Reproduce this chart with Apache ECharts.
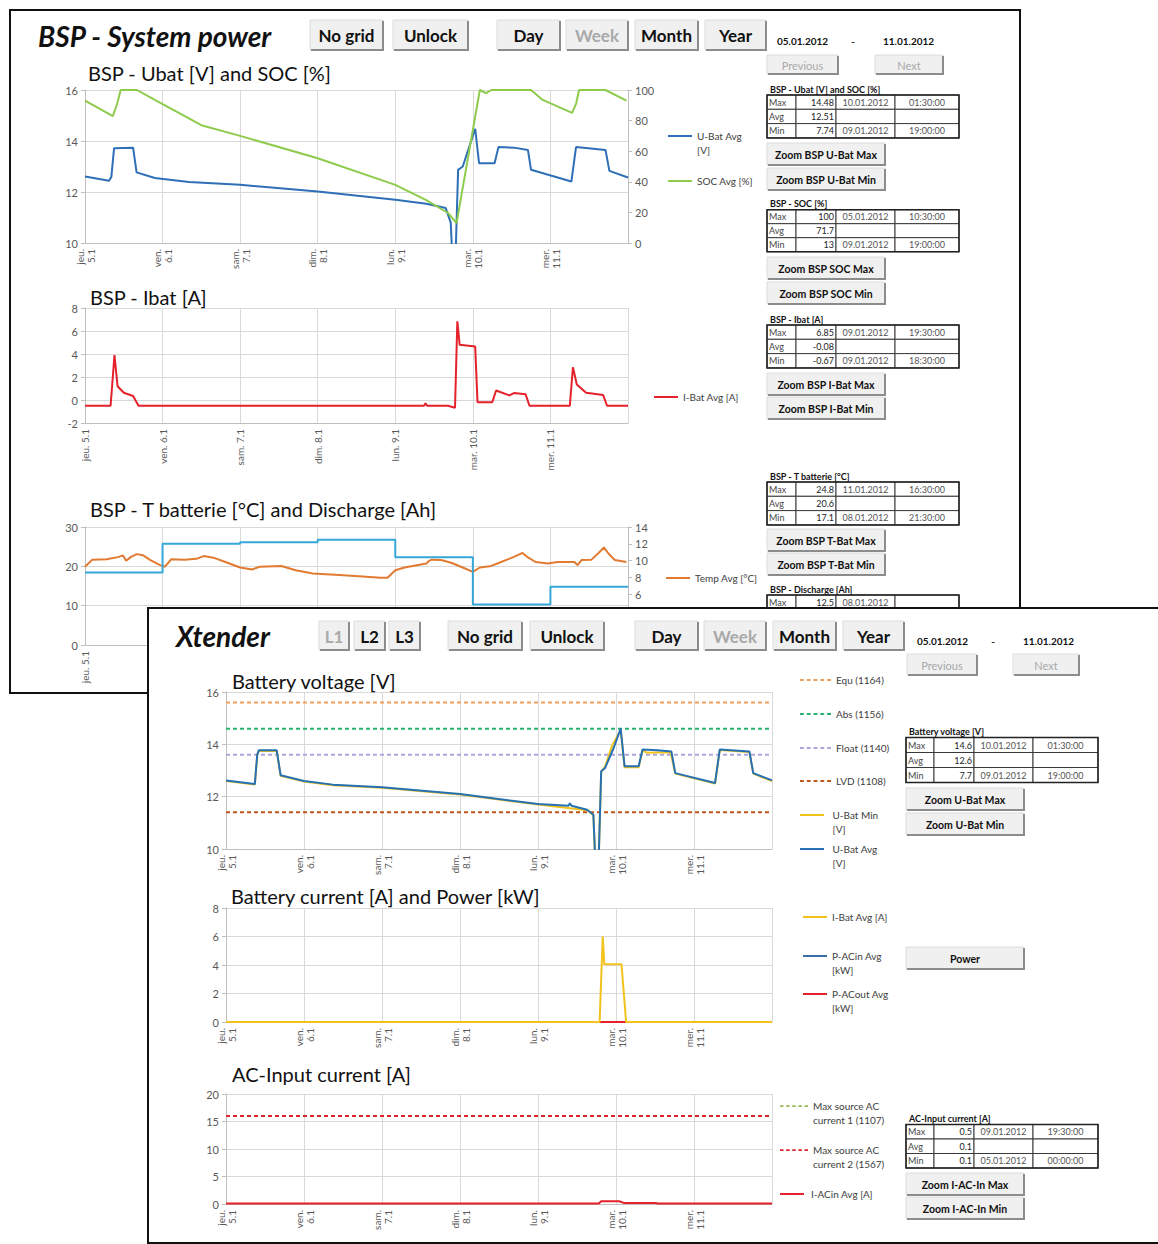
<!DOCTYPE html>
<html><head><meta charset="utf-8">
<script src="https://cdn.jsdelivr.net/npm/echarts@6/dist/echarts.min.js"></script>
<style>
html,body{margin:0;padding:0;width:1158px;height:1244px;overflow:hidden;background:#fff;}
#frame1{position:absolute;left:9px;top:9px;width:1012px;height:685px;border:2px solid #111;box-sizing:border-box;background:#fff;z-index:1;}
#c1{position:absolute;left:0;top:0;width:1158px;height:1244px;z-index:2;}
#frame2{position:absolute;left:147px;top:607px;width:1100px;height:637px;border:2px solid #111;border-right:none;box-sizing:border-box;background:#fff;z-index:3;}
#c2{position:absolute;left:0;top:0;width:1158px;height:1244px;z-index:4;}
</style></head><body>
<div id="frame1"></div><div id="c1"></div><div id="frame2"></div><div id="c2"></div>
<script>
// ---------------- DATA ----------------
const dayNames = ['jeu.','ven.','sam.','dim.','lun.','mar.','mer.'];
const dayDates = ['5.1','6.1','7.1','8.1','9.1','10.1','11.1'];

// BSP - Ubat [V]  ([day, value])
const bspUbatAvg = [[0,12.61],[0.31,12.44],[0.34,12.6],[0.375,13.72],[0.62,13.74],[0.665,12.77],[0.9,12.55],[1.34,12.39],[2,12.28],[3,12.02],[4,11.7],[4.4,11.54],[4.65,11.37],[4.715,10.8],[4.76,7.74],[4.81,12.87],[4.87,13.0],[5.03,14.48],[5.08,13.13],[5.28,13.13],[5.33,13.76],[5.53,13.74],[5.71,13.65],[5.75,12.87],[6.27,12.41],[6.33,13.76],[6.71,13.65],[6.76,12.83],[7,12.57]];
// BSP - SOC [%]
const bspSocAvg = [[0,93],[0.36,83],[0.42,92],[0.46,100],[0.67,100],[0.9,93.5],[1.5,77],[2,70],[3,55.4],[4,38],[4.4,28],[4.68,19.6],[4.79,13],[5.09,100],[5.17,98],[5.24,100],[5.75,100],[5.9,93.5],[6.28,85],[6.33,91],[6.37,100],[6.71,100],[6.98,93]];
// BSP - Ibat [A]
const bspIbatAvg = [[0,-0.5],[0.33,-0.5],[0.38,3.9],[0.42,1.2],[0.5,0.63],[0.62,0.35],[0.69,-0.5],[4.37,-0.5],[4.39,-0.28],[4.41,-0.5],[4.68,-0.5],[4.77,-0.67],[4.8,6.85],[4.83,4.8],[5.03,4.65],[5.06,-0.2],[5.25,-0.2],[5.3,0.83],[5.47,0.4],[5.53,0.6],[5.68,0.5],[5.73,-0.5],[6.25,-0.5],[6.29,2.85],[6.34,1.35],[6.46,0.63],[6.68,0.43],[6.73,-0.5],[7,-0.5]];
// BSP - T batterie [°C]
const bspTempAvg = [[0,19.9],[0.094,21.7],[0.281,21.8],[0.437,22.4],[0.487,22.8],[0.531,21.4],[0.593,22.4],[0.668,23.1],[0.75,22.8],[0.843,21.6],[0.968,20.3],[1.031,19.9],[1.112,21.8],[1.28,21.7],[1.437,21.9],[1.53,22.6],[1.655,22.2],[1.81,21.1],[2,19.7],[2.155,19.2],[2.25,19.9],[2.53,20.1],[2.717,19.0],[2.936,18.2],[3.28,17.8],[3.53,17.5],[3.81,17.1],[3.9,17.1],[4,19.0],[4.12,19.7],[4.28,20.3],[4.4,20.7],[4.43,21.3],[4.47,21.7],[4.59,21.6],[4.72,20.9],[4.87,19.7],[5,18.6],[5.09,19.7],[5.22,20.0],[5.34,20.9],[5.53,22.4],[5.64,23.4],[5.715,22.2],[5.81,21.1],[5.965,20.7],[6.09,21.1],[6.31,21.1],[6.35,20.3],[6.4,21.6],[6.53,21.7],[6.62,23.4],[6.69,24.8],[6.75,23.2],[6.83,21.6],[6.98,21.1]];
// BSP - Discharge [Ah] (daily)
const bspDischarge = [[0,8.6],[1,12.0],[2,12.2],[3,12.5],[4,10.4],[5,4.8],[6,6.9],[7,6.9]];

// Xtender - Battery voltage [V]
const xtUbatMin = [[0,12.6],[0.37,12.46],[0.4,13.58],[0.42,13.75],[0.65,13.75],[0.7,12.8],[1,12.58],[1.37,12.44],[2,12.34],[3,12.08],[4,11.7],[4.63,11.48],[4.71,11.29],[4.76,7.7],[4.81,12.95],[4.86,13.15],[4.95,13.95],[5.06,14.55],[5.11,13.12],[5.29,13.12],[5.34,13.76],[5.4,13.68],[5.7,13.7],[5.76,12.88],[6.27,12.5],[6.33,13.78],[6.71,13.71],[6.76,12.88],[7,12.6]];
const xtUbatAvg = [[0,12.62],[0.37,12.48],[0.4,13.6],[0.42,13.77],[0.65,13.77],[0.7,12.82],[1,12.6],[1.37,12.46],[2,12.36],[3,12.1],[4,11.72],[4.39,11.65],[4.41,11.75],[4.43,11.65],[4.63,11.5],[4.71,11.31],[4.76,7.7],[4.81,12.97],[4.86,13.1],[4.97,13.86],[5.06,14.6],[5.11,13.16],[5.29,13.16],[5.34,13.8],[5.53,13.77],[5.71,13.73],[5.76,12.9],[6.27,12.52],[6.33,13.8],[6.71,13.73],[6.76,12.9],[7,12.62]];
const xtEqu = 15.6, xtAbs = 14.6, xtFloat = 13.6, xtLvd = 11.4;
// Xtender - Battery current [A] and Power [kW]
const xtIbatAvg = [[0,0],[4.79,0],[4.83,6.0],[4.85,4.05],[5.07,4.05],[5.13,0],[7,0]];
const xtPAcInAvg = [[0,0],[7,0]];
const xtPAcOutAvg = [[0,0],[7,0]];
// Xtender - AC-Input current [A]
const xtIAcInAvg = [[0,0.1],[4.78,0.1],[4.81,0.5],[5.04,0.5],[5.1,0.2],[5.5,0.2],[5.54,0.1],[7,0.1]];
const xtMaxAc1 = 16, xtMaxAc2 = 16;

// statistic tables
const tblBspUbat = [['Max','14.48','10.01.2012','01:30:00'],['Avg','12.51','',''],['Min','7.74','09.01.2012','19:00:00']];
const tblBspSoc = [['Max','100','05.01.2012','10:30:00'],['Avg','71.7','',''],['Min','13','09.01.2012','19:00:00']];
const tblBspIbat = [['Max','6.85','09.01.2012','19:30:00'],['Avg','-0.08','',''],['Min','-0.67','09.01.2012','18:30:00']];
const tblBspTemp = [['Max','24.8','11.01.2012','16:30:00'],['Avg','20.6','',''],['Min','17.1','08.01.2012','21:30:00']];
const tblBspDis = [['Max','12.5','08.01.2012','']];
const tblXtUbat = [['Max','14.6','10.01.2012','01:30:00'],['Avg','12.6','',''],['Min','7.7','09.01.2012','19:00:00']];
const tblXtIAc = [['Max','0.5','09.01.2012','19:30:00'],['Avg','0.1','',''],['Min','0.1','05.01.2012','00:00:00']];
const dateFrom = '05.01.2012', dateTo = '11.01.2012';

// ---------------- HELPERS ----------------
const FONT = 'Lato, "Open Sans", sans-serif';
const AX = '#bfbfbf', GRIDC = '#d9d9d9', LAB = '#595959';
const ICON_SOLID = 'path://M0,0H24V2H0Z';
const ICON_DASH = 'path://M0,0H4V2H0Z M7,0H11V2H7Z M14,0H18V2H14Z M21,0H25V2H21Z M28,0H32V2H28Z';

function xAxis(grid, twoLine) {
  return {type:'value', gridIndex:grid, min:0, max:7, interval:1,
    axisLine:{show:true, onZero:false, lineStyle:{color:AX}}, axisTick:{show:false},
    splitLine:{show:true, lineStyle:{color:GRIDC, width:1}},
    axisLabel:{rotate:90, fontSize:10, color:LAB, fontFamily:FONT, margin:6, lineHeight:11,
      formatter: v => { const i = Math.round(v); return i < 7 ? (twoLine ? dayNames[i] + '\n' + dayDates[i] : dayNames[i] + ' ' + dayDates[i]) : ''; }}};
}
function yAxis(grid, min, max, interval, pos, split) {
  return {type:'value', gridIndex:grid, min, max, interval, position:pos || 'left',
    axisLine:{show:true, onZero:false, lineStyle:{color:AX}},
    axisTick:{show:true, length:4, lineStyle:{color:AX}},
    splitLine:{show: split !== false, lineStyle:{color:GRIDC}},
    axisLabel:{fontSize:11, color:LAB, fontFamily:FONT, margin:7}};
}
function line(name, data, color, xi, yi, opts) {
  return Object.assign({type:'line', name, data, xAxisIndex:xi, yAxisIndex:yi, symbol:'none', showSymbol:false,
    lineStyle:{color, width:2}, itemStyle:{color}, animation:false, silent:true}, opts || {});
}
function hline(name, v, color, xi, yi) {
  return line(name, [[0, v], [7, v]], color, xi, yi, {lineStyle:{color, width:2, type:[4, 3]}});
}
function leg(name, label, x, y, lines, iw, dashed) {
  const txt = lines > 1 ? ' \n' + label : label;
  return {data:[{name, icon: dashed ? ICON_DASH : ICON_SOLID}], left:x, top: lines > 1 ? y - 21 : y - 7, orient:'vertical', padding:0,
    itemWidth: iw || 24, itemHeight:2, itemGap:0, selectedMode:false,
    textStyle:{fontSize:10, color:'#404040', fontFamily:FONT, lineHeight:14}, formatter: () => txt};
}
function title(t, x, y, size, big) {
  return {text:t, left:x, top:y - size / 2, padding:0,
    textStyle:{fontSize:size, fontWeight: big ? 'bold' : 'normal', fontStyle: big ? 'italic' : 'normal', fontFamily:FONT, color:'#111'}};
}
function text(t, x, y, o) {
  o = o || {};
  const al = o.align || 'left';
  return {type:'text', silent:true, style:{text:t, x, y, fill:o.fill || '#222', fontSize:o.fontSize || 9,
    fontWeight:o.fontWeight || 'normal', fontFamily:FONT, align:al, textAlign:al, verticalAlign:'middle', textVerticalAlign:'middle'}};
}
function btn(x, y, w, h, label, fs, dis, bold) {
  return [
    {type:'rect', silent:true, shape:{x, y, width:w, height:h}, style:{fill:'#f0f0f0', stroke:'#dcdcdc', lineWidth:1}},
    {type:'polyline', silent:true, shape:{points:[[x + w, y + 1], [x + w, y + h], [x + 1, y + h]]}, style:{stroke:'#8c8c8c', lineWidth:2, fill:null}},
    text(label, x + w / 2, y + h / 2 + 0.5, {align:'center', fontSize:fs, fontWeight: bold === false ? 'normal' : 'bold', fill: dis ? '#a9a9a9' : '#111'})
  ];
}
function table(cols, top, rowH, ttl, rows) {
  const els = [text(ttl, cols[0] + 3, top - 6, {fontSize:9, fontWeight:'bold', fill:'#111'})];
  rows.forEach((r, i) => {
    const y = top + i * rowH;
    for (let c = 0; c < 4; c++) {
      els.push({type:'rect', silent:true, shape:{x:cols[c], y, width:cols[c + 1] - cols[c], height:rowH}, style:{fill:'#fff', stroke:'#3a3a3a', lineWidth:1}});
    }
    els.push(text(r[0], cols[0] + 2, y + rowH / 2, {fill:'#444'}));
    els.push(text(r[1], cols[2] - 2, y + rowH / 2, {align:'right'}));
    els.push(text(r[2], (cols[2] + cols[3]) / 2, y + rowH / 2, {align:'center', fill:'#555'}));
    els.push(text(r[3], (cols[3] + cols[4]) / 2, y + rowH / 2, {align:'center', fill:'#555'}));
  });
  els.push({type:'rect', silent:true, shape:{x:cols[0], y:top, width:cols[4] - cols[0], height:rowH * rows.length}, style:{fill:null, stroke:'#222', lineWidth:1.5}});
  return els;
}

// ---------------- WINDOW 1 : BSP ----------------
const c1cols = [767, 796, 836, 895, 959];
const g1 = [].concat(
  btn(310, 20, 73, 30, 'No grid', 17), btn(393, 20, 75, 30, 'Unlock', 17),
  btn(497, 20, 63, 30, 'Day', 17), btn(566, 20, 62, 30, 'Week', 17, true),
  btn(635, 20, 63, 30, 'Month', 17), btn(705, 20, 61, 30, 'Year', 17),
  [text(dateFrom, 777, 41, {fontSize:10, fontWeight:'bold', fill:'#111'}), text('-', 853, 41, {fontSize:10, fontWeight:'bold', align:'center'}), text(dateTo, 883, 41, {fontSize:10, fontWeight:'bold', fill:'#111'})],
  btn(767, 55, 71, 19, 'Previous', 11, true, false), btn(875, 55, 68, 19, 'Next', 11, true, false),
  table(c1cols, 95, 14.3, 'BSP - Ubat [V] and SOC [%]', tblBspUbat),
  btn(767, 143, 118, 22, 'Zoom BSP U-Bat Max', 10.5), btn(767, 168, 118, 22, 'Zoom BSP U-Bat Min', 10.5),
  table(c1cols, 209.7, 14, 'BSP - SOC [%]', tblBspSoc),
  btn(767, 257, 118, 22, 'Zoom BSP SOC Max', 10.5), btn(767, 282, 118, 22, 'Zoom BSP SOC Min', 10.5),
  table(c1cols, 325, 14.3, 'BSP - Ibat [A]', tblBspIbat),
  btn(767, 373, 118, 22, 'Zoom BSP I-Bat Max', 10.5), btn(767, 397, 118, 22, 'Zoom BSP I-Bat Min', 10.5),
  table(c1cols, 482, 14.3, 'BSP - T batterie [°C]', tblBspTemp),
  btn(767, 529, 118, 22, 'Zoom BSP T-Bat Max', 10.5), btn(767, 553, 118, 22, 'Zoom BSP T-Bat Min', 10.5),
  table(c1cols, 595, 14.3, 'BSP - Discharge [Ah]', tblBspDis)
);

const opt1 = {
  animation:false,
  title:[
    title('BSP - System power', 38, 36, 28, true),
    title('BSP - Ubat [V] and SOC [%]', 88, 73, 20),
    title('BSP - Ibat [A]', 90, 297, 20),
    title('BSP - T batterie [°C] and Discharge [Ah]', 90, 509, 20)
  ],
  grid:[{left:85, top:90, width:543, height:153}, {left:85, top:308, width:543, height:115}, {left:85, top:527, width:543, height:118}],
  xAxis:[xAxis(0, true), xAxis(1, false), xAxis(2, false)],
  yAxis:[yAxis(0, 10, 16, 2), yAxis(0, 0, 100, 20, 'right', false), yAxis(1, -2, 8, 2), yAxis(2, 0, 30, 10), yAxis(2, 0, 14, 2, 'right', false)],
  legend:[
    leg('U-Bat Avg [V]', 'U-Bat Avg\n[V]', 668, 136, 2),
    leg('SOC Avg [%]', 'SOC Avg [%]', 668, 181, 1),
    leg('I-Bat Avg [A]', 'I-Bat Avg [A]', 654, 397, 1),
    leg('Temp Avg [°C]', 'Temp Avg [°C]', 666, 578, 1),
    leg('Discharge [Ah]', 'Discharge [Ah]', 666, 613, 1)
  ],
  series:[
    line('U-Bat Avg [V]', bspUbatAvg, '#2e6fb7', 0, 0),
    line('SOC Avg [%]', bspSocAvg, '#8ecb4c', 0, 1),
    line('I-Bat Avg [A]', bspIbatAvg, '#e5212b', 1, 2),
    line('Temp Avg [°C]', bspTempAvg, '#e27b32', 2, 3),
    line('Discharge [Ah]', bspDischarge, '#36a7d8', 2, 4, {step:'end'})
  ],
  graphic:{elements:g1}
};
const ch1 = echarts.init(document.getElementById('c1'), null, {renderer:'svg', width:1158, height:1244});
ch1.setOption(opt1);

// ---------------- WINDOW 2 : XTENDER ----------------
const c2cols = [906, 934, 974, 1033, 1098];
const g2 = [].concat(
  btn(319, 621, 30, 29, 'L1', 17, true), btn(354, 621, 31, 29, 'L2', 17), btn(389, 621, 31, 29, 'L3', 17),
  btn(448, 621, 74, 29, 'No grid', 17), btn(530, 621, 74, 29, 'Unlock', 17),
  btn(635, 621, 63, 29, 'Day', 17), btn(704, 621, 62, 29, 'Week', 17, true),
  btn(773, 621, 63, 29, 'Month', 17), btn(843, 621, 61, 29, 'Year', 17),
  [text(dateFrom, 917, 641, {fontSize:10, fontWeight:'bold', fill:'#111'}), text('-', 993, 641, {fontSize:10, fontWeight:'bold', align:'center'}), text(dateTo, 1023, 641, {fontSize:10, fontWeight:'bold', fill:'#111'})],
  btn(907, 654, 70, 21, 'Previous', 11, true, false), btn(1013, 654, 66, 21, 'Next', 11, true, false),
  table(c2cols, 737.5, 15, 'Battery voltage [V]', tblXtUbat),
  btn(906, 788, 118, 22, 'Zoom U-Bat Max', 10.5), btn(906, 813, 118, 22, 'Zoom U-Bat Min', 10.5),
  btn(906, 947, 118, 22, 'Power', 10.5),
  table(c2cols, 1124.5, 14.5, 'AC-Input current [A]', tblXtIAc),
  btn(906, 1173, 118, 22, 'Zoom I-AC-In Max', 10.5), btn(906, 1197, 118, 22, 'Zoom I-AC-In Min', 10.5)
);

const opt2 = {
  animation:false,
  title:[
    title('Xtender', 176, 636, 28, true),
    title('Battery voltage [V]', 232, 681, 20),
    title('Battery current [A] and Power [kW]', 231, 896, 20),
    title('AC-Input current [A]', 232, 1074, 20)
  ],
  grid:[{left:226, top:692, width:546, height:157}, {left:226, top:908, width:546, height:114}, {left:226, top:1094, width:546, height:110}],
  xAxis:[xAxis(0, true), xAxis(1, true), xAxis(2, true)],
  yAxis:[yAxis(0, 10, 16, 2), yAxis(1, 0, 8, 2), yAxis(2, 0, 20, 5)],
  legend:[
    leg('Equ (1164)', 'Equ (1164)', 800, 680, 1, 31, true),
    leg('Abs (1156)', 'Abs (1156)', 800, 714, 1, 31, true),
    leg('Float (1140)', 'Float (1140)', 800, 748, 1, 31, true),
    leg('LVD (1108)', 'LVD (1108)', 800, 781, 1, 31, true),
    leg('U-Bat Min [V]', 'U-Bat Min\n[V]', 800, 815, 2, 31),
    leg('U-Bat Avg [V]', 'U-Bat Avg\n[V]', 800, 849, 2, 31),
    leg('I-Bat Avg [A]', 'I-Bat Avg [A]', 803, 917, 1, 24),
    leg('P-ACin Avg [kW]', 'P-ACin Avg\n[kW]', 803, 956, 2, 24),
    leg('P-ACout Avg [kW]', 'P-ACout Avg\n[kW]', 803, 994, 2, 24),
    leg('Max source AC current 1 (1107)', 'Max source AC\ncurrent 1 (1107)', 780, 1106, 2, 28, true),
    leg('Max source AC current 2 (1567)', 'Max source AC\ncurrent 2 (1567)', 780, 1150, 2, 28, true),
    leg('I-ACin Avg [A]', 'I-ACin Avg [A]', 780, 1194, 1, 28)
  ],
  series:[
    hline('Equ (1164)', xtEqu, '#f0a05a', 0, 0),
    hline('Abs (1156)', xtAbs, '#27b36e', 0, 0),
    hline('Float (1140)', xtFloat, '#aaa6de', 0, 0),
    hline('LVD (1108)', xtLvd, '#c0561c', 0, 0),
    line('U-Bat Min [V]', xtUbatMin, '#f2c31a', 0, 0),
    line('U-Bat Avg [V]', xtUbatAvg, '#2571b3', 0, 0),
    line('P-ACin Avg [kW]', xtPAcInAvg, '#3c6ea8', 1, 1),
    line('P-ACout Avg [kW]', xtPAcOutAvg, '#e5212b', 1, 1),
    line('I-Bat Avg [A]', xtIbatAvg, '#f3c21c', 1, 1),
    hline('Max source AC current 1 (1107)', xtMaxAc1, '#9bbb59', 2, 2),
    hline('Max source AC current 2 (1567)', xtMaxAc2, '#d9252b', 2, 2),
    line('I-ACin Avg [A]', xtIAcInAvg, '#e5212b', 2, 2)
  ],
  graphic:{elements:g2}
};
const ch2 = echarts.init(document.getElementById('c2'), null, {renderer:'svg', width:1158, height:1244});
ch2.setOption(opt2);
</script></body></html>
